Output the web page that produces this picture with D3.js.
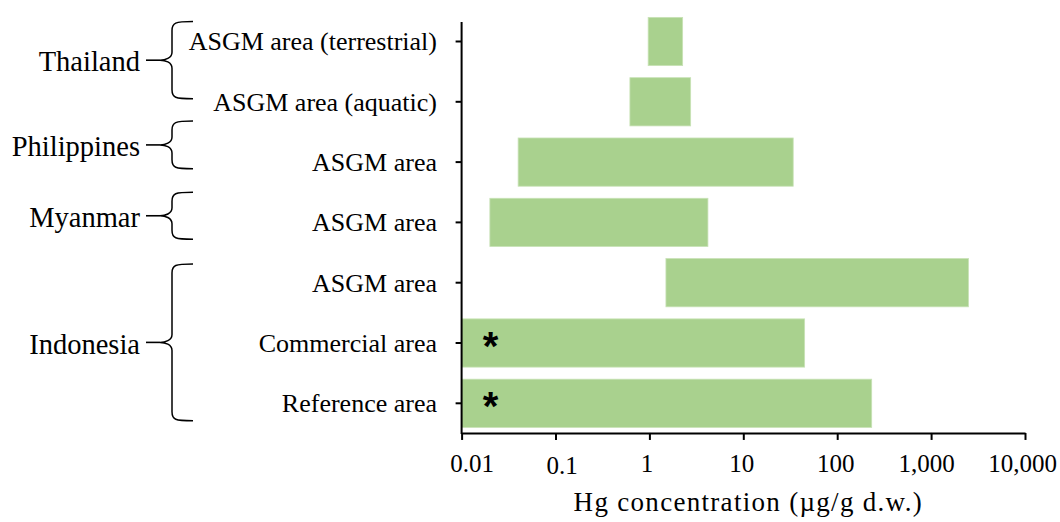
<!DOCTYPE html>
<html>
<head>
<meta charset="utf-8">
<script src="https://cdn.jsdelivr.net/npm/d3@7/dist/d3.min.js"></script>
<style>
  html, body { margin: 0; padding: 0; background: #fff; }
  svg { display: block; }
</style>
</head>
<body>
<svg id="chart" width="1060" height="522"></svg>
<script>
// ---------------- data ----------------
const categories = [
  "ASGM area (terrestrial)",
  "ASGM area (aquatic)",
  "ASGM area",
  "ASGM area",
  "ASGM area",
  "Commercial area",
  "Reference area"
];
const countries = ["Thailand", "Thailand", "Philippines", "Myanmar", "Indonesia", "Indonesia", "Indonesia"];
const minValues = [0.97, 0.62, 0.040, 0.020, 1.5, 0.01, 0.01];
const maxValues = [2.26, 2.75, 34, 4.2, 2500, 45, 233];
const flagged = [false, false, false, false, false, true, true]; // marked with *
const tickValues = [0.01, 0.1, 1, 10, 100, 1000, 10000];
const tickLabels = ["0.01", "0.1", "1", "10", "100", "1,000", "10,000"];
const countryNames = ["Thailand", "Philippines", "Myanmar", "Indonesia"];
const xTitle = "Hg concentration (\u00b5g/g d.w.)";

// ---------------- layout / style ----------------
const W = 1060, H = 522;
const plotLeft = 461.6, plotRight = 1025, plotTop = 11.35, plotBottom = 433.45;
const axisTop = 22;
const barColor = "#a9d18e";
const serif = "'Liberation Serif', 'Times New Roman', serif";
// brace extents in row units (0 = centre of first row)
const braceSpans = { Thailand: [-0.33, 0.95], Philippines: [1.32, 2.11], Myanmar: [2.5, 3.28], Indonesia: [3.69, 6.29] };
const tickLabelDx = [10, 6, -3, -2, -2, -5, -3];
const tickLabelDy = [0, 2, 0, 0, 0, 0, 0];

const svg = d3.select("#chart");

const x = d3.scaleLog().domain([0.01, 10000]).range([plotLeft, plotRight]);
const rows = categories.map((c, i) => i);
const y = d3.scaleBand().domain(rows).range([plotTop, plotBottom]).paddingInner(0.2).paddingOuter(0.1);
const rowY = r => y(0) + y.bandwidth() / 2 + r * y.step();

// bars
svg.append("g").selectAll("rect").data(rows).join("rect")
  .attr("x", i => x(minValues[i]))
  .attr("width", i => x(maxValues[i]) - x(minValues[i]))
  .attr("y", i => y(i))
  .attr("height", y.bandwidth())
  .attr("fill", barColor)
  .attr("stroke", "#c8e2b6")
  .attr("stroke-width", 0.8);

// asterisks
svg.append("g").selectAll("text").data(rows.filter(i => flagged[i])).join("text")
  .attr("x", i => x(minValues[i]) + 29)
  .attr("y", i => y(i) + y.bandwidth() / 2 + 17)
  .attr("text-anchor", "middle")
  .attr("font-family", "'Liberation Sans', Arial, sans-serif")
  .attr("font-weight", "bold")
  .attr("font-size", 40)
  .attr("fill", "#000")
  .text("*");

// x axis
const xAxis = d3.axisBottom(x).tickValues(tickValues).tickSizeInner(7).tickSizeOuter(0).tickFormat("");
const gx = svg.append("g").attr("transform", `translate(0,${plotBottom - 0.5})`).call(xAxis);
gx.select(".domain").attr("stroke", "#000").attr("stroke-width", 2);
gx.selectAll(".tick line").attr("stroke", "#000").attr("stroke-width", 2);
gx.selectAll(".tick").each(function(d, i) {
  d3.select(this).append("text")
    .attr("x", tickLabelDx[i])
    .attr("y", 38.7 + tickLabelDy[i])
    .attr("text-anchor", "middle")
    .attr("font-family", serif)
    .attr("font-size", 25)
    .attr("fill", "#000")
    .text(tickLabels[i]);
});

// x axis title
svg.append("text")
  .attr("x", (plotLeft + plotRight) / 2 + 5)
  .attr("y", 511.3)
  .attr("text-anchor", "middle")
  .attr("font-family", serif)
  .attr("font-size", 27)
  .attr("letter-spacing", 1.3)
  .attr("fill", "#000")
  .text(xTitle);

// y axis
const yAxis = d3.axisLeft(y).tickSizeInner(6).tickSizeOuter(0).tickFormat("");
const gy = svg.append("g").attr("transform", `translate(${plotLeft},0)`).call(yAxis);
gy.select(".domain").remove();
gy.selectAll(".tick line").attr("stroke", "#000").attr("stroke-width", 2);
gy.append("line")
  .attr("x1", 0).attr("x2", 0)
  .attr("y1", axisTop).attr("y2", plotBottom + 0.5)
  .attr("stroke", "#000").attr("stroke-width", 2);
gy.selectAll(".tick").append("text")
  .attr("x", -461.6 + 437)
  .attr("dy", "0.34em")
  .attr("text-anchor", "end")
  .attr("font-family", serif)
  .attr("font-size", 26)
  .attr("fill", "#000")
  .text(i => categories[i]);

// country braces and labels
const xTip = 160, xLine = 172, xEnd = 193, labelRight = 140;
function bracePath(t, b) {
  const m = (t + b) / 2;
  return `M${xEnd},${t} C${xLine + 3},${t} ${xLine},${t + 1} ${xLine},${t + 9}` +
         ` L${xLine},${m - 8} C${xLine},${m - 2} ${xTip + 5},${m} ${xTip},${m}` +
         ` C${xTip + 5},${m} ${xLine},${m + 2} ${xLine},${m + 8}` +
         ` L${xLine},${b - 9} C${xLine},${b - 1} ${xLine + 3},${b} ${xEnd},${b}`;
}
const gc = svg.append("g");
countryNames.forEach(name => {
  const span = braceSpans[name];
  const t = rowY(span[0]), b = rowY(span[1]), m = (t + b) / 2;
  gc.append("path").attr("d", bracePath(t, b))
    .attr("fill", "none").attr("stroke", "#000").attr("stroke-width", 1.5);
  gc.append("line").attr("x1", labelRight + 6).attr("x2", xTip).attr("y1", m).attr("y2", m)
    .attr("stroke", "#000").attr("stroke-width", 1.6);
  gc.append("text")
    .attr("x", labelRight).attr("y", m + 1.5).attr("dy", "0.34em")
    .attr("text-anchor", "end")
    .attr("font-family", serif)
    .attr("font-size", 28.5)
    .attr("fill", "#000")
    .text(name);
});
</script>
</body>
</html>
